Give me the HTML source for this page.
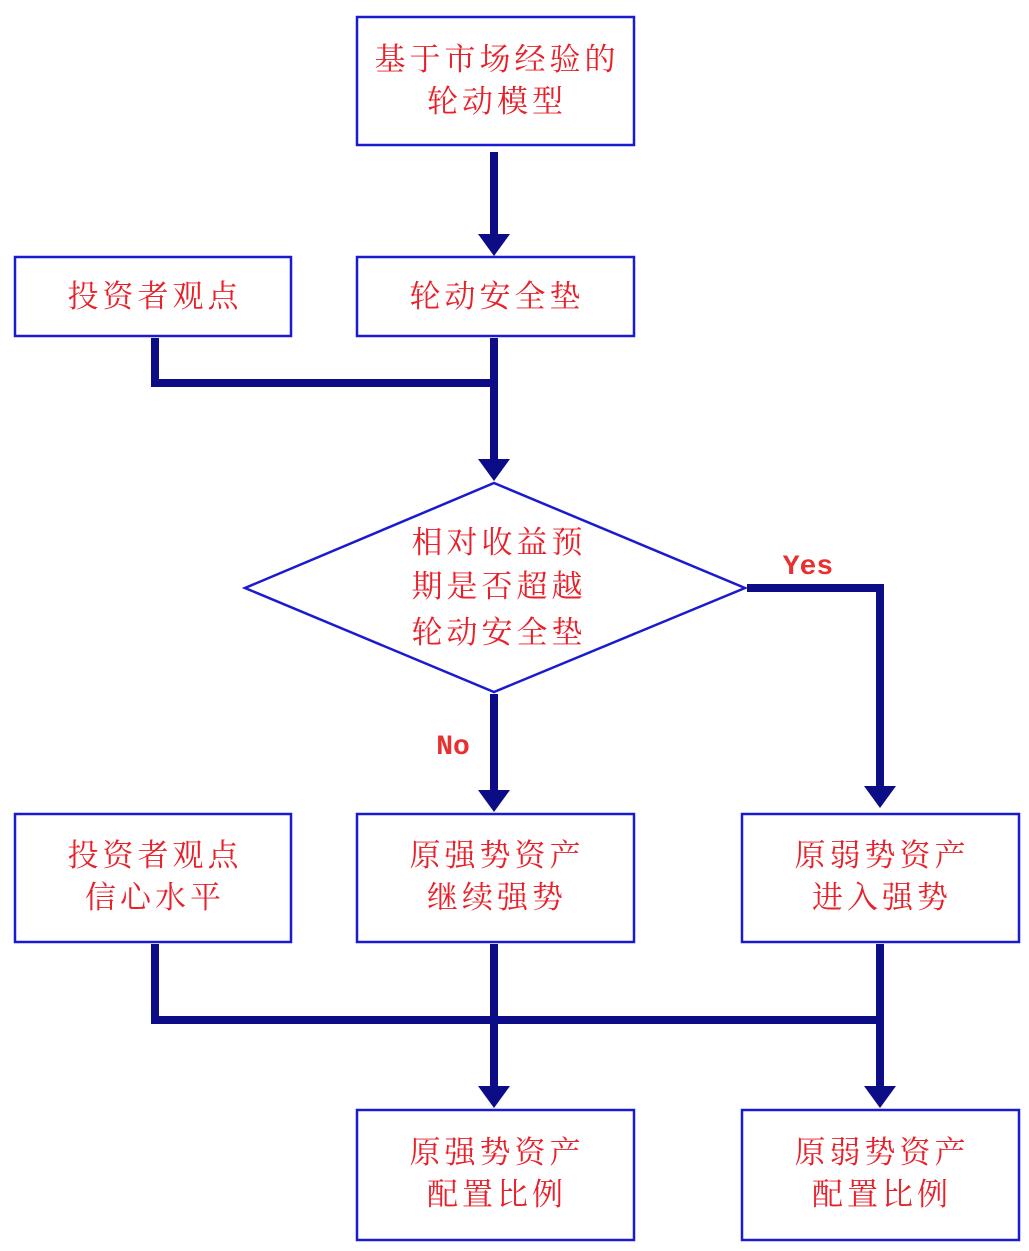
<!DOCTYPE html>
<html><head><meta charset="utf-8"><style>
html,body{margin:0;padding:0;background:#fff;}
svg{display:block}
text{font-family:"Liberation Serif","Noto Serif CJK SC",serif;fill:#e8202a;font-size:31px;letter-spacing:4px;text-anchor:middle}
.e{font-family:"Liberation Mono","DejaVu Sans Mono",monospace;font-size:28px;letter-spacing:0;font-weight:bold;fill:#e83030}
</style></head><body>
<svg width="1029" height="1251" viewBox="0 0 1029 1251">
<g fill="none" stroke="#1a1ad0" stroke-width="2.5">
<rect x="357" y="17" width="277" height="128"/>
<rect x="357" y="257" width="277" height="79"/>
<rect x="15" y="257" width="276" height="79"/>
<polygon points="494,483 745,588 494,692 245,588"/>
<rect x="15" y="814" width="276" height="128"/>
<rect x="357" y="814" width="277" height="128"/>
<rect x="742" y="814" width="277" height="128"/>
<rect x="357" y="1110" width="277" height="130"/>
<rect x="742" y="1110" width="277" height="130"/>
</g>
<g fill="none" stroke="#0c0c86" stroke-width="8">
<path d="M494 152V240"/>
<path d="M155 338V383H494M494 338V465"/>
<path d="M747 588H880V792"/>
<path d="M494 694V795"/>
<path d="M155 944V1020H880M494 944V1092M880 944V1092"/>
</g>
<g fill="#0c0c86">
<polygon points="478,234 510,234 494,256"/>
<polygon points="478,459 510,459 494,481"/>
<polygon points="864,786 896,786 880,808"/>
<polygon points="478,790 510,790 494,812"/>
<polygon points="478,1086 510,1086 494,1108"/>
<polygon points="864,1086 896,1086 880,1108"/>
</g>
<text x="497" y="70">基于市场经验的</text>
<text x="497" y="112">轮动模型</text>
<text x="497" y="307">轮动安全垫</text>
<text x="155" y="307">投资者观点</text>
<text x="499" y="553">相对收益预</text>
<text x="499" y="597">期是否超越</text>
<text x="499" y="643">轮动安全垫</text>
<text class="e" x="808" y="574">Yes</text>
<text class="e" x="453" y="754">No</text>
<text x="155" y="866">投资者观点</text>
<text x="155" y="908">信心水平</text>
<text x="497" y="866">原强势资产</text>
<text x="497" y="908">继续强势</text>
<text x="882" y="866">原弱势资产</text>
<text x="882" y="908">进入强势</text>
<text x="497" y="1163">原强势资产</text>
<text x="497" y="1205">配置比例</text>
<text x="882" y="1163">原弱势资产</text>
<text x="882" y="1205">配置比例</text>
</svg>
</body></html>
